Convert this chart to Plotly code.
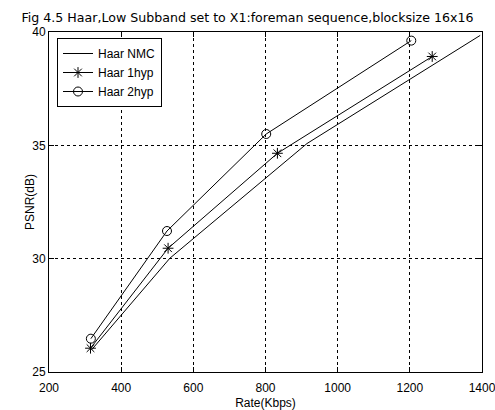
import plotly.graph_objects as go

rate_nmc = [318, 535, 915, 1395]
psnr_nmc = [25.98, 30.02, 35.08, 39.85]

rate_1hyp = [315, 530, 833, 1262]
psnr_1hyp = [26.05, 30.46, 34.65, 38.92]

rate_2hyp = [316, 527, 802, 1204]
psnr_2hyp = [26.47, 31.22, 35.5, 39.62]

title_text = "Fig 4.5 Haar,Low Subband set to X1:foreman sequence,blocksize 16x16"
x_ticks = [200, 400, 600, 800, 1000, 1200, 1400]
y_ticks = [25, 30, 35, 40]

FONT = "Liberation Sans, Arial, sans-serif"
TFONT = "DejaVu Sans, sans-serif"
PW, PH = 433, 340

fig = go.Figure()
fig.add_trace(go.Scatter(x=rate_nmc, y=psnr_nmc, mode="lines", name="Haar NMC",
                         line=dict(color="black", width=1)))
fig.add_trace(go.Scatter(x=rate_1hyp, y=psnr_1hyp, mode="lines+markers", name="Haar 1hyp",
                         line=dict(color="black", width=1),
                         marker=dict(symbol="asterisk-open", size=9, color="black",
                                     line=dict(color="black", width=1))))
fig.add_trace(go.Scatter(x=rate_2hyp, y=psnr_2hyp, mode="lines+markers", name="Haar 2hyp",
                         line=dict(color="black", width=1),
                         marker=dict(symbol="circle-open", size=9, color="black",
                                     line=dict(color="black", width=1))))

axis_common = dict(
    showgrid=True, gridcolor="black", griddash="3px,3px", gridwidth=1,
    showline=True, linecolor="black", linewidth=1, mirror="ticks",
    ticks="inside", ticklen=5, tickcolor="black",
    tickfont=dict(family=FONT, size=12, color="black"),
    zeroline=False, automargin=False, ticklabeloverflow="allow",
)

fig.update_xaxes(range=[200, 1400], tickvals=x_ticks, ticklabelstandoff=5, **axis_common,
                 title=dict(text="Rate(Kbps)", font=dict(family=FONT, size=12, color="black"),
                            standoff=4))
fig.update_yaxes(range=[25, 40], tickvals=y_ticks, **axis_common)

fig.add_annotation(text="PSNR(dB)", xref="paper", yref="paper",
                   x=(30 - 49) / PW, y=0.5, xanchor="center", yanchor="middle",
                   textangle=-90, showarrow=False,
                   font=dict(family=FONT, size=12, color="black"))

fig.update_layout(
    width=495, height=410,
    margin=dict(l=49, r=13, t=32, b=38, autoexpand=False),
    paper_bgcolor="white", plot_bgcolor="white",
    title=dict(text=title_text, x=0.5, xanchor="center", y=1 - 18 / 410, yanchor="middle",
               font=dict(family=TFONT, size=12.6, color="black")),
    font=dict(family=FONT, size=12, color="black"),
    showlegend=True,
    legend=dict(x=(57 - 49) / PW, y=1 - 6 / PH, xanchor="left", yanchor="top",
                bgcolor="white", bordercolor="black", borderwidth=1,
                font=dict(family=FONT, size=12, color="black"),
                itemwidth=30, tracegroupgap=0),
)

fig.write_html("out.html")
